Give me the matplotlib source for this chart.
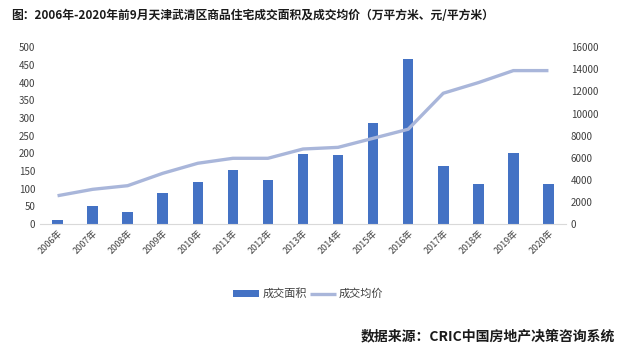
import matplotlib
matplotlib.use("Agg")
import matplotlib.pyplot as plt
import numpy as np

plt.rcParams['font.family'] = ['Noto Sans CJK SC', 'DejaVu Sans']

years = ["2006年", "2007年", "2008年", "2009年", "2010年", "2011年", "2012年", "2013年",
         "2014年", "2015年", "2016年", "2017年", "2018年", "2019年", "2020年"]
area = [12, 50, 35, 89, 120, 154, 125, 199, 196, 285, 467, 165, 114, 201, 114]
price = [2560, 3140, 3470, 4590, 5500, 5950, 5950, 6790, 6940, 7760, 8580, 11840, 12800, 13890, 13890]

title = "图：2006年-2020年前9月天津武清区商品住宅成交面积及成交均价（万平方米、元/平方米）"
source = "数据来源：CRIC中国房地产决策咨询系统"

bar_color = "#4472C4"
line_color = "#A9B6DA"
tick_color = "#404040"

fig = plt.figure(figsize=(6.37, 3.54), dpi=100)
ax = fig.add_axes([0.0628, 0.3672, 0.8257, 0.4992])
x = np.arange(len(years))
b = ax.bar(x, area, width=0.3, color=bar_color, label="成交面积", zorder=2)
ax.set_xlim(-0.5, len(years) - 0.5)
ax.set_ylim(0, 500)
ax.set_yticks(np.arange(0, 501, 50))
ax2 = ax.twinx()
l, = ax2.plot(x, price, color=line_color, lw=2.4, label="成交均价", zorder=3, solid_capstyle='butt')
ax2.set_ylim(0, 16000)
ax2.set_yticks(np.arange(0, 16001, 2000))

for a in (ax, ax2):
    for s in a.spines.values():
        s.set_visible(False)
    a.tick_params(axis='y', length=0, labelsize=7, labelcolor=tick_color)
ax.spines['bottom'].set_visible(True)
ax.spines['bottom'].set_color("#D9D9D9")
ax.tick_params(axis='x', length=0, labelsize=6.5, labelcolor=tick_color, pad=3)
ax.set_xticks(x)
ax.set_xticklabels(years, rotation=45, ha='right', rotation_mode='anchor')

fig.legend(handles=[b, l], labels=["成交面积", "成交均价"], loc='center',
           bbox_to_anchor=(0.484, 0.17), ncol=2, frameon=False, fontsize=8,
           handlelength=2.3, handleheight=0.55, handletextpad=0.3, columnspacing=0.3,
           labelcolor=tick_color)

fig.text(0.018, 0.955, title, fontsize=8.5, fontweight='bold', ha='left', va='center', color='#1a1a1a')
fig.text(0.966, 0.051, source, fontsize=10, fontweight='bold', ha='right', va='center', color='#1a1a1a')

fig.savefig("out.png", dpi=100)
